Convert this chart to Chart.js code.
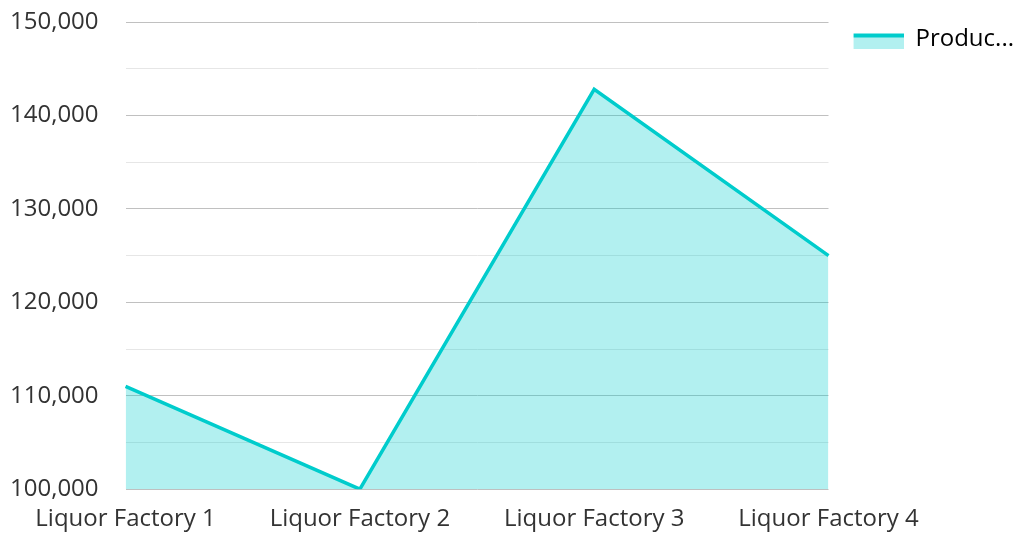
<!DOCTYPE html>
<html>
<head>
<meta charset="utf-8">
<script src="https://cdn.jsdelivr.net/npm/chart.js@4/dist/chart.umd.min.js"></script>
<style>
  html, body { margin: 0; padding: 0; background: #fff; }
  #wrap { width: 1015px; height: 533px; }
</style>
</head>
<body>
<div id="wrap"><canvas id="myChart"></canvas></div>
<script>
// Chart values
const categories = ['Liquor Factory 1', 'Liquor Factory 2', 'Liquor Factory 3', 'Liquor Factory 4'];
const production = [111000, 100000, 142800, 125000];
const seriesName = 'Production';
const yTicks = [100000, 110000, 120000, 130000, 140000, 150000];

const lineColor = 'rgb(0, 204, 204)';
const fillColor = 'rgba(0, 204, 204, 0.3)';

// legend swatch: thick line on top, light fill under it (with a little empty margin left)
const swatch = document.createElement('canvas');
swatch.width = 70;
swatch.height = 19;
const sctx = swatch.getContext('2d');
sctx.fillStyle = 'rgb(178, 240, 240)';
sctx.fillRect(20, 4, 50, 15);
sctx.fillStyle = lineColor;
sctx.fillRect(20, 4, 50, 4);

Chart.defaults.font.family = '"Open Sans", "Noto Sans", sans-serif';
Chart.defaults.font.size = 24;
Chart.defaults.color = '#333';

const chartConfig = {
    type: 'line',
    data: {
        labels: categories,
        datasets: [{
            label: seriesName,
            data: production,
            borderColor: lineColor,
            backgroundColor: fillColor,
            borderWidth: 3.5,
            fill: 'start',
            tension: 0,
            pointRadius: 0,
            pointHoverRadius: 0
        }]
    },
    options: {
        responsive: true,
        maintainAspectRatio: false,
        animation: false,
        layout: { padding: { top: 22, left: 10, right: -9, bottom: -17 } },
        plugins: {
            tooltip: { enabled: false },
            legend: {
                position: 'right',
                align: 'start',
                labels: {
                    usePointStyle: true,
                    pointStyleWidth: 70,
                    boxHeight: 15,
                    padding: 5,
                    font: { size: 24 },
                    generateLabels: (chart) => chart.data.datasets.map((ds, i) => ({
                        text: ds.label.slice(0, 6) + '...',
                        pointStyle: swatch,
                        fillStyle: fillColor,
                        strokeStyle: lineColor,
                        lineWidth: 0,
                        datasetIndex: i
                    }))
                }
            }
        },
        scales: {
            x: {
                offset: false,
                grid: { display: false, drawTicks: false },
                border: { display: false },
                ticks: { padding: 16, maxRotation: 0, autoSkip: false }
            },
            y: {
                min: yTicks[0],
                max: yTicks[yTicks.length - 1],
                border: { display: false },
                grid: {
                    drawTicks: true,
                    tickLength: 27,
                    tickColor: 'rgba(0,0,0,0)',
                    lineWidth: 1,
                    color: (ctx) => (ctx.tick && ctx.tick.value % 10000 === 0) ? '#c0c0c0' : '#e6e6e6'
                },
                ticks: {
                    stepSize: 5000,
                    padding: 0,
                    callback: (v) => yTicks.includes(v) ? v.toLocaleString('en-US') : ''
                }
            }
        }
    }
};

const ctx = document.getElementById('myChart').getContext('2d');
const myChart = new Chart(ctx, chartConfig);
</script>
</body>
</html>
